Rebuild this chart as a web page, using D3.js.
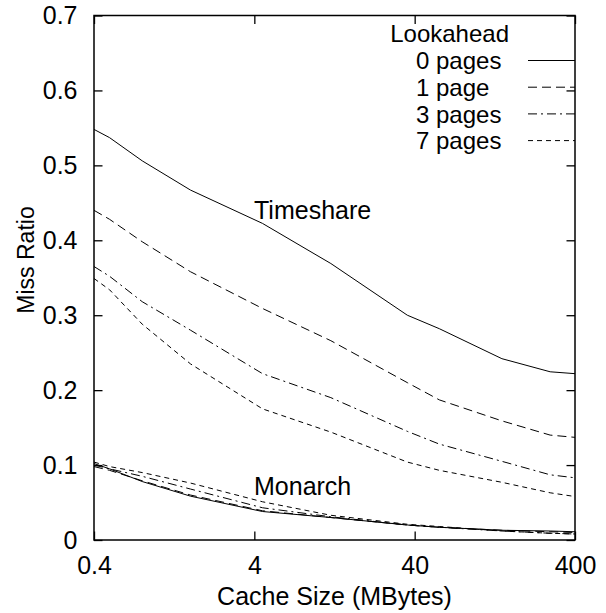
<!DOCTYPE html>
<html>
<head>
<meta charset="utf-8">
<script src="https://cdn.jsdelivr.net/npm/d3@7"></script>
<style>
  body { margin: 0; background: #fff; }
  text { font-family: "Liberation Sans", Arial, sans-serif; fill: #000; }
  .tick text { font-size: 25px; }
  .axis path, .axis line { stroke: #000; stroke-width: 1.3; }
  .curve { fill: none; stroke: #000; stroke-width: 1; }
</style>
</head>
<body>
<div id="chart"></div>
<script>
// cache sizes (MBytes)
var sizes = [0.4, 0.5, 0.8, 1.6, 4.5, 12, 36, 57, 140, 280, 400];

// lookahead settings
var lookahead = ["0 pages", "1 page", "3 pages", "7 pages"];

// miss ratio, timeshare trace
var timeshare0 = [0.548, 0.537, 0.506, 0.467, 0.4225, 0.369, 0.300, 0.282, 0.242, 0.2245, 0.222];
var timeshare1 = [0.440, 0.428, 0.398, 0.358, 0.309, 0.266, 0.210, 0.187, 0.159, 0.140, 0.137];
var timeshare3 = [0.365, 0.352, 0.318, 0.280, 0.222, 0.190, 0.145, 0.128, 0.105, 0.087, 0.083];
var timeshare7 = [0.349, 0.334, 0.288, 0.235, 0.175, 0.144, 0.104, 0.093, 0.077, 0.063, 0.058];

// miss ratio, monarch trace
var monarch0 = [0.102, 0.095, 0.078, 0.0585, 0.038, 0.030, 0.020, 0.017, 0.013, 0.012, 0.011];
var monarch1 = [0.098, 0.093, 0.079, 0.060, 0.039, 0.030, 0.020, 0.017, 0.013, 0.011, 0.010];
var monarch3 = [0.100, 0.095, 0.085, 0.068, 0.043, 0.031, 0.020, 0.017, 0.012, 0.009, 0.008];
var monarch7 = [0.104, 0.098, 0.090, 0.076, 0.051, 0.033, 0.021, 0.018, 0.012, 0.009, 0.008];

// tick values
var xTicks = [0.4, 4, 40, 400];
var yTicks = [0, 0.1, 0.2, 0.3, 0.4, 0.5, 0.6, 0.7];

var dashes = ["none", "9,5", "9,4,2,4", "5,4"];
var series = [
  {name: lookahead[0], dash: dashes[0], data: [timeshare0, monarch0]},
  {name: lookahead[1], dash: dashes[1], data: [timeshare1, monarch1]},
  {name: lookahead[2], dash: dashes[2], data: [timeshare3, monarch3]},
  {name: lookahead[3], dash: dashes[3], data: [timeshare7, monarch7]}
];

// area space
var width = 606;
var height = 613;
var plot = {left: 94, right: 575, top: 15.5, bottom: 540};

var svg = d3.select("#chart")
  .append("svg")
  .attr("width", width)
  .attr("height", height);

var x = d3.scaleLog()
  .domain([0.4, 400])
  .range([plot.left, plot.right]);

var y = d3.scaleLinear()
  .domain([0, 0.7])
  .range([plot.bottom, plot.top]);

var tickLen = 8.5;

// axes, ticks pointing inward on all sides
svg.append("g")
  .attr("class", "axis")
  .attr("transform", "translate(0," + plot.bottom + ")")
  .call(d3.axisBottom(x).tickValues(xTicks).tickSize(-tickLen).tickPadding(tickLen + 8)
    .tickFormat(function(d){ return d; }));

svg.append("g")
  .attr("class", "axis")
  .attr("transform", "translate(0," + plot.top + ")")
  .call(d3.axisTop(x).tickValues(xTicks).tickSize(-tickLen).tickFormat(""));

svg.append("g")
  .attr("class", "axis")
  .attr("transform", "translate(" + plot.left + ",0)")
  .call(d3.axisLeft(y).tickValues(yTicks).tickSize(-tickLen).tickPadding(tickLen + 8)
    .tickFormat(function(d){ return d; }));

svg.append("g")
  .attr("class", "axis")
  .attr("transform", "translate(" + plot.right + ",0)")
  .call(d3.axisRight(y).tickValues(yTicks).tickSize(-tickLen).tickFormat(""));

svg.selectAll(".axis .domain").remove();

svg.append("rect")
  .attr("x", plot.left)
  .attr("y", plot.top)
  .attr("width", plot.right - plot.left)
  .attr("height", plot.bottom - plot.top)
  .style("fill", "none")
  .style("stroke", "#000")
  .style("stroke-width", 1.5);

// curves
var line = d3.line()
  .x(function(d, i){ return x(sizes[i]); })
  .y(function(d){ return y(d); });

series.forEach(function(s){
  s.data.forEach(function(values){
    svg.append("path")
      .attr("class", "curve")
      .attr("d", line(values))
      .style("stroke-dasharray", s.dash);
  });
});

// curve labels
svg.append("text")
  .attr("x", 254)
  .attr("y", 219)
  .style("font-size", "25px")
  .text("Timeshare");

svg.append("text")
  .attr("x", 254)
  .attr("y", 495)
  .style("font-size", "25px")
  .text("Monarch");

// axis titles
svg.append("text")
  .attr("x", (plot.left + plot.right) / 2)
  .attr("y", 605)
  .style("text-anchor", "middle")
  .style("font-size", "25px")
  .text("Cache Size (MBytes)");

svg.append("text")
  .attr("transform", "translate(34,260) rotate(-90)")
  .style("text-anchor", "middle")
  .style("font-size", "23px")
  .text("Miss Ratio");

// legend
var legend = svg.append("g");

legend.append("text")
  .attr("x", 509)
  .attr("y", 42)
  .style("text-anchor", "end")
  .style("font-size", "24px")
  .text("Lookahead");

var rowY = d3.scaleLinear().domain([0, 1]).range([60.5, 87.2]);

var rows = legend.selectAll(".row")
  .data(series)
  .enter()
  .append("g");

rows.append("text")
  .attr("x", 416)
  .attr("y", function(d, i){ return rowY(i) + 8.8; })
  .style("font-size", "24px")
  .text(function(d){ return d.name; });

rows.append("line")
  .attr("class", "curve")
  .attr("x1", 528)
  .attr("x2", plot.right)
  .attr("y1", function(d, i){ return rowY(i); })
  .attr("y2", function(d, i){ return rowY(i); })
  .style("stroke-dasharray", function(d){ return d.dash; });
</script>
</body>
</html>
